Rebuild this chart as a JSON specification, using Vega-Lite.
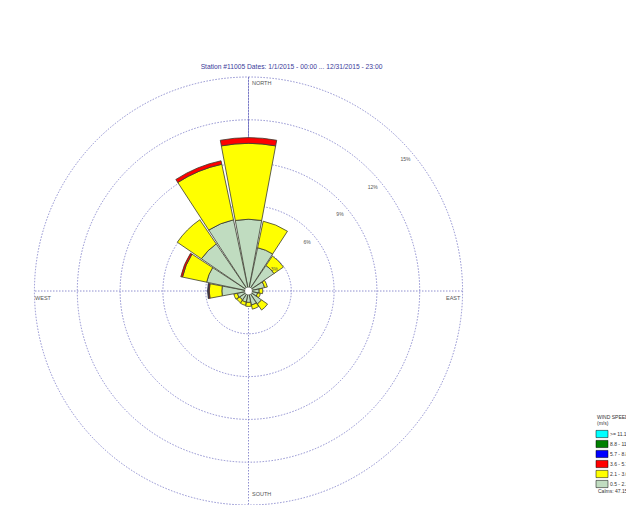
{
  "$schema": "https://vega.github.io/schema/vega-lite/v6.json",
  "width": 428,
  "height": 428,
  "autosize": {"type": "none"},
  "padding": {"left": 34.5, "top": 77, "right": 163.5, "bottom": 0},
  "background": "white",
  "title": {
    "text": "Station #11005  Dates: 1/1/2015 - 00:00 ... 12/31/2015 - 23:00",
    "font": "Liberation Sans", "fontSize": 6.7, "fontWeight": "normal",
    "color": "#3a3a9a", "anchor": "middle", "frame": "group", "dx": 43, "offset": 5
  },
  "config": {"view": {"stroke": null}},
  "datasets": {
    "petals": [
      {"a": 0, "cls": "0.5 - 2.1", "r0": 0, "r1": 5.03},
      {"a": 0, "cls": "2.1 - 3.6", "r0": 5.03, "r1": 10.35},
      {"a": 0, "cls": "3.6 - 5.7", "r0": 10.35, "r1": 10.75},
      {"a": 22.5, "cls": "0.5 - 2.1", "r0": 0, "r1": 3.1},
      {"a": 22.5, "cls": "2.1 - 3.6", "r0": 3.1, "r1": 5.0},
      {"a": 45, "cls": "0.5 - 2.1", "r0": 0, "r1": 2.17},
      {"a": 45, "cls": "2.1 - 3.6", "r0": 2.17, "r1": 2.97},
      {"a": 67.5, "cls": "0.5 - 2.1", "r0": 0, "r1": 1.15},
      {"a": 67.5, "cls": "2.1 - 3.6", "r0": 1.15, "r1": 1.35},
      {"a": 90, "cls": "0.5 - 2.1", "r0": 0, "r1": 0.75},
      {"a": 90, "cls": "2.1 - 3.6", "r0": 0.75, "r1": 1.0},
      {"a": 112.5, "cls": "0.5 - 2.1", "r0": 0, "r1": 0.65},
      {"a": 112.5, "cls": "2.1 - 3.6", "r0": 0.65, "r1": 0.85},
      {"a": 135, "cls": "0.5 - 2.1", "r0": 0, "r1": 1.1},
      {"a": 135, "cls": "2.1 - 3.6", "r0": 1.1, "r1": 1.62},
      {"a": 157.5, "cls": "0.5 - 2.1", "r0": 0, "r1": 1.0},
      {"a": 157.5, "cls": "2.1 - 3.6", "r0": 1.0, "r1": 1.3},
      {"a": 180, "cls": "0.5 - 2.1", "r0": 0, "r1": 0.8},
      {"a": 180, "cls": "2.1 - 3.6", "r0": 0.8, "r1": 1.08},
      {"a": 202.5, "cls": "0.5 - 2.1", "r0": 0, "r1": 0.8},
      {"a": 202.5, "cls": "2.1 - 3.6", "r0": 0.8, "r1": 1.03},
      {"a": 225, "cls": "0.5 - 2.1", "r0": 0, "r1": 0.75},
      {"a": 225, "cls": "2.1 - 3.6", "r0": 0.75, "r1": 1.0},
      {"a": 247.5, "cls": "0.5 - 2.1", "r0": 0, "r1": 0.8},
      {"a": 247.5, "cls": "2.1 - 3.6", "r0": 0.8, "r1": 1.05},
      {"a": 270, "cls": "0.5 - 2.1", "r0": 0, "r1": 1.87},
      {"a": 270, "cls": "2.1 - 3.6", "r0": 1.87, "r1": 2.75},
      {"a": 270, "cls": "3.6 - 5.7", "r0": 2.75, "r1": 2.82},
      {"a": 270, "cls": "5.7 - 8.8", "r0": 2.82, "r1": 2.87},
      {"a": 292.5, "cls": "0.5 - 2.1", "r0": 0, "r1": 3.0},
      {"a": 292.5, "cls": "2.1 - 3.6", "r0": 3.0, "r1": 4.73},
      {"a": 292.5, "cls": "3.6 - 5.7", "r0": 4.73, "r1": 4.85},
      {"a": 315, "cls": "0.5 - 2.1", "r0": 0, "r1": 4.0},
      {"a": 315, "cls": "2.1 - 3.6", "r0": 4.0, "r1": 6.05},
      {"a": 337.5, "cls": "0.5 - 2.1", "r0": 0, "r1": 5.1},
      {"a": 337.5, "cls": "2.1 - 3.6", "r0": 5.1, "r1": 9.08},
      {"a": 337.5, "cls": "3.6 - 5.7", "r0": 9.08, "r1": 9.33}
    ],
    "rings": [
      {"ring": 3, "label": "3%"},
      {"ring": 6, "label": "6%"},
      {"ring": 9, "label": "9%"},
      {"ring": 12, "label": "12%"},
      {"ring": 15, "label": "15%"}
    ],
    "cardinals": [
      {"label": "NORTH", "a": 0.96, "r": 14.6},
      {"label": "EAST", "a": 92.0, "r": 13.85},
      {"label": "SOUTH", "a": 179.0, "r": 14.26},
      {"label": "WEST", "a": 268.2, "r": 14.97}
    ],
    "calm": [{"calm": "Calms: 47.15%"}]
  },
  "layer": [
    {
      "data": {"name": "rings"},
      "mark": {"type": "arc", "filled": false, "stroke": "#7474c4", "strokeWidth": 0.8, "strokeDash": [1.5, 1.5]},
      "encoding": {
        "theta": {"datum": 0, "type": "quantitative", "scale": {"domain": [0, 360], "range": [0, 6.283185], "zero": false, "nice": false}},
        "theta2": {"datum": 360},
        "radius": {"field": "ring", "type": "quantitative", "stack": null, "scale": {"type": "linear", "domain": [0, 15], "range": [0, 214], "zero": true, "nice": false}}
      }
    },
    {
      "data": {"values": [{}]},
      "mark": {"type": "rule", "stroke": "#7474c4", "strokeWidth": 0.8, "strokeDash": [1.5, 1.5]},
      "encoding": {
        "x": {"datum": 0, "type": "quantitative", "scale": {"domain": [-15, 15], "nice": false}, "axis": null}
      }
    },
    {
      "data": {"values": [{}]},
      "mark": {"type": "rule", "stroke": "#7474c4", "strokeWidth": 0.8, "strokeDash": [1.5, 1.5]},
      "encoding": {
        "y": {"datum": 0, "type": "quantitative", "scale": {"domain": [-15, 15], "nice": false}, "axis": null}
      }
    },
    {
      "data": {"name": "petals"},
      "mark": {"type": "arc", "stroke": "#3c3c30", "strokeWidth": 0.8, "thetaOffset": -0.185, "theta2Offset": 0.185},
      "encoding": {
        "theta": {"field": "a", "type": "quantitative", "stack": null, "scale": {"domain": [0, 360], "range": [0, 6.283185], "zero": false, "nice": false}},
        "theta2": {"field": "a"},
        "radius": {"field": "r1", "type": "quantitative", "stack": null, "scale": {"type": "linear", "domain": [0, 15], "range": [0, 214], "zero": true, "nice": false}},
        "radius2": {"field": "r0"},
        "color": {
          "field": "cls", "type": "nominal",
          "scale": {
            "domain": [">= 11.1", "8.8 - 11.1", "5.7 - 8.8", "3.6 - 5.7", "2.1 - 3.6", "0.5 - 2.1"],
            "range": ["#00FFFF", "#008000", "#0000FF", "#FF0000", "#FFFF00", "#C0DCC0"]
          },
          "legend": {
            "orient": "none", "legendX": 562.5, "legendY": 338,
            "title": ["WIND SPEED", "(m/s)"], "titleFont": "Liberation Sans", "titleFontSize": 5, "titleFontWeight": "normal", "titleColor": "#333", "titleLineHeight": 6,
            "titlePadding": 3, "padding": 0,
            "labelFont": "Liberation Sans", "labelFontSize": 5, "labelColor": "#333", "labelOffset": 3,
            "symbolType": "M-1.333,-0.8H1.333V0.8H-1.333Z", "symbolSize": 81, "symbolStrokeColor": "#000", "symbolStrokeWidth": 0.5, "symbolOpacity": 1,
            "rowPadding": 0
          }
        }
      }
    },
    {
      "data": {"name": "calm"},
      "mark": {"type": "arc", "fill": "white", "strokeWidth": 0},
      "encoding": {
        "theta": {"datum": 0, "type": "quantitative", "scale": {"domain": [0, 360], "range": [0, 6.283185], "zero": false, "nice": false}},
        "theta2": {"datum": 360},
        "radius": {"datum": 0.24, "type": "quantitative", "stack": null, "scale": {"type": "linear", "domain": [0, 15], "range": [0, 214], "zero": true, "nice": false}},
        "stroke": {
          "field": "calm", "type": "nominal",
          "scale": {"range": ["#ffffff"]},
          "legend": {
            "orient": "none", "legendX": 558.5, "legendY": 411, "title": null, "padding": 0,
            "symbolSize": 0, "labelOffset": 0, "labelFont": "Liberation Sans", "labelFontSize": 5, "labelColor": "#333"
          }
        }
      }
    },
    {
      "data": {"name": "rings"},
      "mark": {"type": "text", "font": "Liberation Sans", "fontSize": 5, "color": "#555", "radiusOffset": -9},
      "encoding": {
        "theta": {"datum": 50, "type": "quantitative", "scale": {"domain": [0, 360], "range": [0, 6.283185], "zero": false, "nice": false}},
        "radius": {"field": "ring", "type": "quantitative", "stack": null, "scale": {"type": "linear", "domain": [0, 15], "range": [0, 214], "zero": true, "nice": false}},
        "text": {"field": "label"}
      }
    },
    {
      "data": {"name": "cardinals"},
      "mark": {"type": "text", "font": "Liberation Sans", "fontSize": 5.5, "color": "#555", "align": "left", "baseline": "middle"},
      "encoding": {
        "theta": {"field": "a", "type": "quantitative", "scale": {"domain": [0, 360], "range": [0, 6.283185], "zero": false, "nice": false}},
        "radius": {"field": "r", "type": "quantitative", "stack": null, "scale": {"type": "linear", "domain": [0, 15], "range": [0, 214], "zero": true, "nice": false}},
        "text": {"field": "label"}
      }
    }
  ]
}
